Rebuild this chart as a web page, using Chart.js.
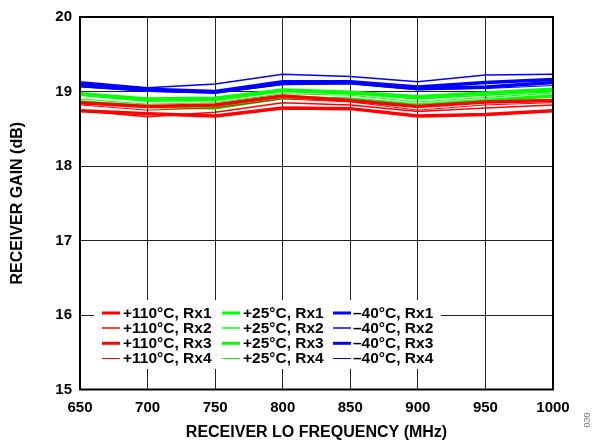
<!DOCTYPE html>
<html>
<head>
<meta charset="utf-8">
<script src="https://cdn.jsdelivr.net/npm/chart.js@4/dist/chart.umd.min.js"></script>
<style>
html,body{margin:0;padding:0;background:#fff;}
#wrap{width:592px;height:442px;position:relative;}
</style>
</head>
<body>
<div id="wrap"><canvas id="c" width="592" height="442"></canvas></div>
<script>
// Receiver LO frequency (MHz)
const frequencies = [650, 700, 750, 800, 850, 900, 950, 1000];
const xTicks = [650, 700, 750, 800, 850, 900, 950, 1000];
const yTicks = [15, 16, 17, 18, 19, 20];

// Receiver gain (dB)
const gainHot_Rx1 = [18.85, 18.80, 18.82, 18.94, 18.88, 18.80, 18.86, 18.88];
const gainHot_Rx2 = [18.74, 18.66, 18.72, 18.85, 18.82, 18.73, 18.78, 18.82];
const gainHot_Rx3 = [18.74, 18.70, 18.67, 18.78, 18.77, 18.67, 18.69, 18.74];
const gainHot_Rx4 = [18.82, 18.75, 18.78, 18.90, 18.86, 18.75, 18.82, 18.85];

const gainRoom_Rx1 = [18.97, 18.90, 18.91, 19.02, 18.99, 18.93, 18.98, 19.03];
const gainRoom_Rx2 = [18.95, 18.87, 18.88, 19.00, 18.97, 18.90, 18.95, 19.00];
const gainRoom_Rx3 = [18.86, 18.80, 18.78, 18.92, 18.90, 18.82, 18.88, 18.94];
const gainRoom_Rx4 = [18.90, 18.83, 18.85, 18.97, 18.95, 18.86, 18.92, 18.98];

const gainCold_Rx1 = [19.10, 19.03, 19.00, 19.13, 19.13, 19.06, 19.12, 19.16];
const gainCold_Rx2 = [19.13, 19.05, 19.10, 19.23, 19.20, 19.13, 19.22, 19.23];
const gainCold_Rx3 = [19.08, 19.02, 18.99, 19.11, 19.12, 19.04, 19.06, 19.12];
const gainCold_Rx4 = [19.06, 19.00, 18.98, 19.09, 19.10, 19.02, 19.04, 19.08];

const seriesLabels = [
  ['+110°C, Rx1', '+110°C, Rx2', '+110°C, Rx3', '+110°C, Rx4'],
  ['+25°C, Rx1', '+25°C, Rx2', '+25°C, Rx3', '+25°C, Rx4'],
  ['\u201340°C, Rx1', '\u201340°C, Rx2', '\u201340°C, Rx3', '\u201340°C, Rx4']
];
const seriesValues = [
  [gainHot_Rx1, gainHot_Rx2, gainHot_Rx3, gainHot_Rx4],
  [gainRoom_Rx1, gainRoom_Rx2, gainRoom_Rx3, gainRoom_Rx4],
  [gainCold_Rx1, gainCold_Rx2, gainCold_Rx3, gainCold_Rx4]
];

const colors = ['#ff0000', '#00ff00', '#0000ff'];
const widths = [3.5, 1.5, 3.5, 1];
const FONT = "Arial, 'Liberation Sans', Helvetica, sans-serif";

const datasets = [];
for (let t = 0; t < 3; t++) {
  for (let r = 0; r < 4; r++) {
    datasets.push({
      label: seriesLabels[t][r],
      data: frequencies.map((f, i) => ({x: f, y: seriesValues[t][r][i]})),
      borderColor: colors[t],
      backgroundColor: colors[t],
      borderWidth: widths[r],
      pointRadius: 0,
      tension: 0,
      fill: false,
      _col: t, _row: r
    });
  }
}

const frame = {
  id: 'frame',
  afterDatasetsDraw(chart) {
    const {ctx, chartArea: a} = chart;
    // legend box
    const L = {x0: 94, y0: 300, x1: 441, y1: 369};
    ctx.save();
    ctx.fillStyle = '#fff';
    ctx.fillRect(L.x0, L.y0, L.x1 - L.x0, L.y1 - L.y0);
    const colSample = [102, 222, 333];
    const colText = [123, 243, 353];
    const rowY = [313, 328, 343.3, 358.5];
    ctx.font = 'bold 15.5px ' + FONT;
    ctx.textBaseline = 'middle';
    ctx.textAlign = 'left';
    chart.data.datasets.forEach(ds => {
      const c = ds._col, r = ds._row;
      const y = rowY[r];
      ctx.strokeStyle = ds.borderColor;
      ctx.lineWidth = Math.min(ds.borderWidth, 3);
      ctx.beginPath();
      ctx.moveTo(colSample[c], y);
      ctx.lineTo(colSample[c] + 18, y);
      ctx.stroke();
      ctx.fillStyle = '#000';
      ctx.fillText(ds.label, colText[c], y + 0.5);
    });
    // plot border
    ctx.strokeStyle = '#000';
    ctx.lineWidth = 2;
    ctx.strokeRect(a.left, a.top, a.right - a.left, a.bottom - a.top);
    ctx.restore();
  },
  afterDraw(chart) {
    const ctx = chart.ctx;
    ctx.save();
    ctx.translate(588, 420);
    ctx.rotate(-Math.PI / 2);
    ctx.font = '9px ' + FONT;
    ctx.fillStyle = '#777';
    ctx.textAlign = 'center';
    ctx.textBaseline = 'middle';
    ctx.fillText('030', 0, 0);
    ctx.restore();
  }
};

new Chart(document.getElementById('c'), {
  type: 'line',
  data: {datasets},
  options: {
    responsive: false,
    animation: false,
    events: [],
    layout: {padding: {left: 0, right: 39, top: 12, bottom: 0}},
    plugins: {legend: {display: false}, tooltip: {enabled: false}, title: {display: false}},
    scales: {
      x: {
        type: 'linear',
        min: 650, max: 1000,
        afterBuildTicks: s => { s.ticks = xTicks.map(v => ({value: v})); },
        afterFit: s => { s.height = 52.5; },
        grid: {color: '#222', lineWidth: 1, drawTicks: false},
        border: {display: false},
        ticks: {color: '#000', font: {family: FONT, size: 15, weight: 'bold'}, padding: 9, maxRotation: 0, autoSkip: false,
                callback: v => String(v)},
        title: {display: true, text: 'RECEIVER LO FREQUENCY (MHz)', color: '#000',
                font: {family: FONT, size: 16, weight: 'bold', lineHeight: 1.2}, padding: {top: 0, bottom: 0}}
      },
      y: {
        type: 'linear',
        min: 15, max: 20,
        afterBuildTicks: s => { s.ticks = yTicks.map(v => ({value: v})); },
        afterFit: s => { s.width = 80; },
        grid: {color: '#222', lineWidth: 1, drawTicks: false},
        border: {display: false},
        ticks: {color: '#000', font: {family: FONT, size: 15, weight: 'bold'}, padding: 8,
                callback: v => String(v)},
        title: {display: true, text: 'RECEIVER GAIN (dB)', color: '#000',
                font: {family: FONT, size: 16, weight: 'bold', lineHeight: 1.2}, padding: {top: 8, bottom: 0}}
      }
    }
  },
  plugins: [frame]
});
</script>
</body>
</html>
